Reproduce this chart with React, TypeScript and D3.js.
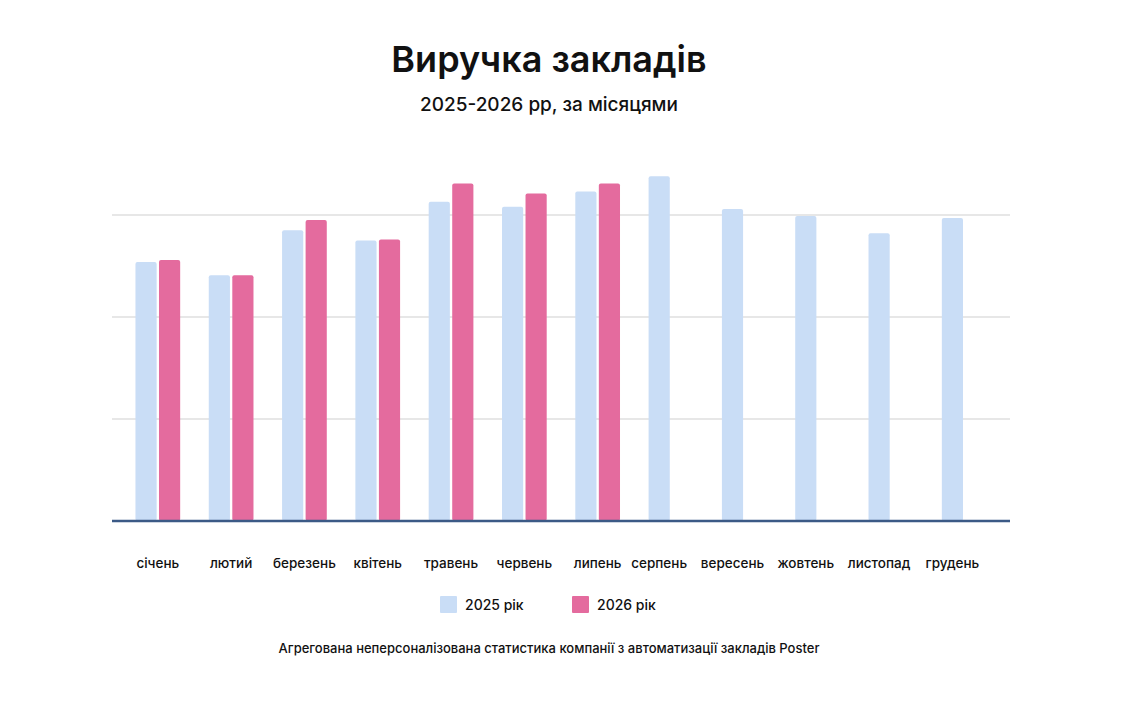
import React from "react";
import * as d3 from "d3";

const months = ["січень","лютий","березень","квітень","травень","червень","липень","серпень","вересень","жовтень","листопад","грудень"];
const series = ["2025 рік","2026 рік"];
const values2025 = [2.54,2.41,2.85,2.75,3.13,3.08,3.23,3.38,3.06,2.99,2.82,2.97];
const values2026: (number|null)[] = [2.56,2.41,2.95,2.76,3.31,3.21,3.31,null,null,null,null,null];
const gridTicks = [1,2,3];
const colors = ["#c9ddf6","#e46b9e"];

export default function App() {
  const W = 1126, H = 726;
  const x0 = d3.scaleBand<string>().domain(months).range([112,1010]).paddingInner(0.39).paddingOuter(0.32);
  const x1 = d3.scaleBand<string>().domain(series).range([0,x0.bandwidth()]).paddingInner(0.1);
  const y = d3.scaleLinear().domain([0,3]).range([521,215]);
  const font = "Inter, 'Open Sans', sans-serif";
  return (
    <svg width={W} height={H} style={{position:"absolute",left:0,top:0,background:"#fff"}} fontFamily={font}>
      <text x={549} y={72} textAnchor="middle" fontSize={36} fontWeight={600} fill="#111">Виручка закладів</text>
      <text x={549} y={111} textAnchor="middle" fontSize={19} fontWeight={500} fill="#111">2025-2026 рр, за місяцями</text>
      {gridTicks.map(t => <line key={t} x1={112} x2={1010} y1={y(t)} y2={y(t)} stroke="#cfcfcf" strokeWidth={1.2}/>)}
      {months.map((m,i) => {
        const gx = x0(m)!;
        const b1 = x1(series[0])!, b2 = x1(series[1])!, bw = x1.bandwidth();
        const v2 = values2026[i];
        const lx = v2 != null ? gx + x0.bandwidth()/2 : gx + b1 + bw/2;
        return (
          <g key={m}>
            <rect x={gx+b1} y={y(values2025[i])} width={bw} height={y(0)-y(values2025[i])} fill={colors[0]} rx={2}/>
            {v2 != null && <rect x={gx+b2} y={y(v2)} width={bw} height={y(0)-y(v2)} fill={colors[1]} rx={2}/>}
            <text x={lx} y={568} textAnchor="middle" fontSize={13.5} fontWeight={500} fill="#111">{m}</text>
          </g>
        );
      })}
      <line x1={112} x2={1010} y1={521} y2={521} stroke="#3b5a86" strokeWidth={2.5}/>
      {series.map((s,i) => (
        <g key={s} transform={`translate(${440+i*132},596)`}>
          <rect width={17} height={17} fill={colors[i]} rx={1}/>
          <text x={25} y={14} fontSize={14} fontWeight={500} fill="#111">{s}</text>
        </g>
      ))}
      <text x={549} y={653} textAnchor="middle" fontSize={13} fontWeight={500} fill="#111">Агрегована неперсоналізована статистика компанії з автоматизації закладів Poster</text>
    </svg>
  );
}
